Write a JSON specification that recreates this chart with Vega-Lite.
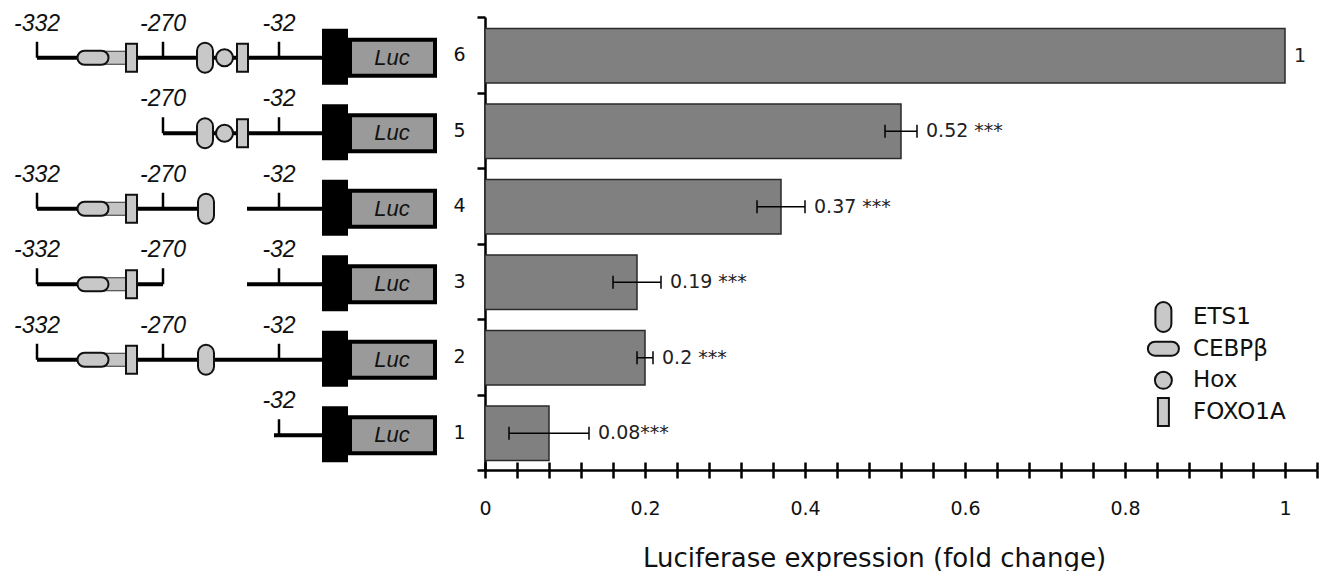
{
  "$schema": "https://vega.github.io/schema/vega-lite/v6.json",
  "padding": {"left": 0, "top": 8, "right": 0, "bottom": 0},
  "config": {"view": {"stroke": null}, "font": "DejaVu Sans"},
  "datasets": {
    "bars": [
      {"c": "6", "v": 1, "lo": 1, "hi": 1, "lab": "1"},
      {"c": "5", "v": 0.52, "lo": 0.5, "hi": 0.54, "lab": "0.52 ***"},
      {"c": "4", "v": 0.37, "lo": 0.34, "hi": 0.4, "lab": "0.37 ***"},
      {"c": "3", "v": 0.19, "lo": 0.16, "hi": 0.22, "lab": "0.19 ***"},
      {"c": "2", "v": 0.2, "lo": 0.19, "hi": 0.21, "lab": "0.2 ***"},
      {"c": "1", "v": 0.08, "lo": 0.03, "hi": 0.13, "lab": "0.08***"}
    ],
    "segs": [
      {"c": "6", "x1": 37, "x2": 322},
      {"c": "5", "x1": 163, "x2": 322},
      {"c": "4", "x1": 37, "x2": 215},
      {"c": "4", "x1": 247, "x2": 322},
      {"c": "3", "x1": 37, "x2": 163},
      {"c": "3", "x1": 247, "x2": 322},
      {"c": "2", "x1": 37, "x2": 322},
      {"c": "1", "x1": 274, "x2": 322}
    ],
    "ticks": [
      {"c": "6", "pos": 37, "label": "-332"},
      {"c": "6", "pos": 163, "label": "-270"},
      {"c": "6", "pos": 279, "label": "-32"},
      {"c": "5", "pos": 163, "label": "-270"},
      {"c": "5", "pos": 279, "label": "-32"},
      {"c": "4", "pos": 37, "label": "-332"},
      {"c": "4", "pos": 163, "label": "-270"},
      {"c": "4", "pos": 279, "label": "-32"},
      {"c": "3", "pos": 37, "label": "-332"},
      {"c": "3", "pos": 163, "label": "-270"},
      {"c": "3", "pos": 279, "label": "-32"},
      {"c": "2", "pos": 37, "label": "-332"},
      {"c": "2", "pos": 163, "label": "-270"},
      {"c": "2", "pos": 279, "label": "-32"},
      {"c": "1", "pos": 279, "label": "-32"}
    ],
    "shade": [
      {"c": "6", "x1": 104, "x2": 127},
      {"c": "4", "x1": 104, "x2": 127},
      {"c": "3", "x1": 104, "x2": 127},
      {"c": "2", "x1": 104, "x2": 127}
    ],
    "sites": [
      {"c": "6", "pos": 93, "factor": "CEBPβ"},
      {"c": "6", "pos": 131.5, "factor": "FOXO1A"},
      {"c": "6", "pos": 205, "factor": "ETS1"},
      {"c": "6", "pos": 224.5, "factor": "Hox"},
      {"c": "6", "pos": 242.5, "factor": "FOXO1A"},
      {"c": "5", "pos": 205, "factor": "ETS1"},
      {"c": "5", "pos": 224.5, "factor": "Hox"},
      {"c": "5", "pos": 242.5, "factor": "FOXO1A"},
      {"c": "4", "pos": 93, "factor": "CEBPβ"},
      {"c": "4", "pos": 131.5, "factor": "FOXO1A"},
      {"c": "4", "pos": 206, "factor": "ETS1"},
      {"c": "3", "pos": 93, "factor": "CEBPβ"},
      {"c": "3", "pos": 131.5, "factor": "FOXO1A"},
      {"c": "2", "pos": 93, "factor": "CEBPβ"},
      {"c": "2", "pos": 131.5, "factor": "FOXO1A"},
      {"c": "2", "pos": 206, "factor": "ETS1"}
    ],
    "factors": [
      {"factor": "ETS1"},
      {"factor": "CEBPβ"},
      {"factor": "Hox"},
      {"factor": "FOXO1A"}
    ]
  },
  "spacing": 12,
  "hconcat": [
    {
      "width": 440,
      "height": 453,
      "layer": [
        {
          "data": {"name": "segs"},
          "mark": {"type": "rule", "stroke": "black", "strokeWidth": 4, "yOffset": 3},
          "encoding": {
            "x": {"field": "x1", "type": "quantitative", "scale": {"domain": [0, 440], "nice": false, "zero": false}, "axis": null},
            "x2": {"field": "x2"},
            "y": {"field": "c", "type": "nominal", "scale": {"domain": ["6", "5", "4", "3", "2", "1"], "paddingInner": 0, "paddingOuter": 0}, "axis": null}
          }
        },
        {
          "data": {"name": "ticks"},
          "mark": {"type": "tick", "color": "black", "thickness": 2.5, "size": 16, "yOffset": -5, "orient": "vertical", "opacity": 1},
          "encoding": {
            "x": {"field": "pos", "type": "quantitative"},
            "y": {"field": "c", "type": "nominal"}
          }
        },
        {
          "data": {"name": "ticks"},
          "mark": {"type": "text", "font": "Liberation Sans", "fontStyle": "italic", "fontSize": 23, "dy": -31, "baseline": "middle", "align": "center", "color": "#111"},
          "encoding": {
            "x": {"field": "pos", "type": "quantitative"},
            "y": {"field": "c", "type": "nominal"},
            "text": {"field": "label"}
          }
        },
        {
          "data": {"name": "shade"},
          "mark": {"type": "bar", "height": 13, "fill": "#c4c4c4", "stroke": "#333", "strokeWidth": 1, "yOffset": 3},
          "encoding": {
            "x": {"field": "x1", "type": "quantitative"},
            "x2": {"field": "x2"},
            "y": {"field": "c", "type": "nominal"}
          }
        },
        {
          "data": {"name": "sites"},
          "mark": {"type": "point", "filled": true, "color": "#c8c8c8", "stroke": "#111", "strokeWidth": 2, "size": 900, "opacity": 1, "yOffset": 3},
          "encoding": {
            "x": {"field": "pos", "type": "quantitative"},
            "y": {"field": "c", "type": "nominal"},
            "shape": {
              "field": "factor",
              "type": "nominal",
              "scale": {
                "domain": ["ETS1", "CEBPβ", "Hox", "FOXO1A"],
                "range": [
                  "M-0.533,-0.467A0.533,0.533,0,0,1,0.533,-0.467L0.533,0.467A0.533,0.533,0,0,1,-0.533,0.467Z",
                  "M-0.567,-0.467L0.567,-0.467A0.467,0.467,0,0,1,0.567,0.467L-0.567,0.467A0.467,0.467,0,0,1,-0.567,-0.467Z",
                  "M-0.567,0A0.567,0.567,0,1,1,0.567,0A0.567,0.567,0,1,1,-0.567,0Z",
                  "M-0.367,-0.933L0.367,-0.933L0.367,0.933L-0.367,0.933Z"
                ]
              },
              "legend": null
            }
          }
        },
        {
          "data": {"name": "bars"},
          "mark": {"type": "bar", "color": "black", "height": {"band": 0.74}, "yOffset": 2},
          "encoding": {
            "x": {"datum": 322, "type": "quantitative"},
            "x2": {"datum": 348},
            "y": {"field": "c", "type": "nominal"}
          }
        },
        {
          "data": {"name": "bars"},
          "mark": {"type": "bar", "fill": "#9a9a9a", "stroke": "black", "strokeWidth": 4, "height": 36, "yOffset": 3},
          "encoding": {
            "x": {"datum": 350, "type": "quantitative"},
            "x2": {"datum": 435},
            "y": {"field": "c", "type": "nominal"}
          }
        },
        {
          "data": {"name": "bars"},
          "mark": {"type": "text", "font": "Liberation Sans", "fontStyle": "italic", "fontSize": 22, "baseline": "middle", "align": "center", "dy": 3, "color": "#111"},
          "encoding": {
            "x": {"datum": 392, "type": "quantitative"},
            "y": {"field": "c", "type": "nominal"},
            "text": {"value": "Luc"}
          }
        }
      ]
    },
    {
      "width": 832,
      "height": 453,
      "resolve": {"axis": {"x": "independent", "y": "independent"}, "scale": {"y": "independent"}},
      "layer": [
        {
          "data": {"name": "bars"},
          "mark": {"type": "bar", "fill": "#808080", "stroke": "#2a2a2a", "strokeWidth": 1.5, "height": {"band": 0.72}, "yOffset": 1},
          "encoding": {
            "x": {
              "field": "v", "type": "quantitative",
              "scale": {"domain": [0, 1.04], "nice": false, "zero": true},
              "axis": {
                "values": [0, 0.04, 0.08, 0.12, 0.16, 0.2, 0.24, 0.28, 0.32, 0.36, 0.4, 0.44, 0.48, 0.52, 0.56, 0.6, 0.64, 0.68, 0.72, 0.76, 0.8, 0.84, 0.88, 0.92, 0.96, 1, 1.04],
                "format": "~g",
                "labelExpr": "abs(datum.value*5 - round(datum.value*5)) < 0.01 ? datum.label : ''",
                "labelOverlap": false,
                "labelFlush": false,
                "grid": false,
                "tickSize": 8,
                "tickWidth": 2.5,
                "tickColor": "black",
                "domainColor": "black",
                "domainWidth": 2.5,
                "labelFontSize": 19,
                "labelPadding": 21,
                "labelColor": "#111",
                "title": "Luciferase expression (fold change)",
                "titleFontSize": 26,
                "titleFontWeight": "normal",
                "titleColor": "#111",
                "titlePadding": 27,
                "titleX": 389
              }
            },
            "y": {
              "field": "c", "type": "nominal",
              "scale": {"domain": ["6", "5", "4", "3", "2", "1"], "paddingInner": 0, "paddingOuter": 0},
              "axis": {
                "title": null,
                "tickBand": "extent",
                "tickSize": 8,
                "tickWidth": 2.5,
                "tickColor": "black",
                "domainColor": "black",
                "domainWidth": 2.5,
                "labelFontSize": 19,
                "labelPadding": 12,
                "labelColor": "#111",
                "labelAngle": 0
              }
            }
          }
        },
        {
          "data": {"name": "bars"},
          "transform": [{"filter": "datum.lo < datum.hi"}],
          "mark": {"type": "rule", "stroke": "black", "strokeWidth": 1.5, "yOffset": 1},
          "encoding": {
            "x": {
              "field": "lo", "type": "quantitative",
              "scale": {"domain": [0, 1.04], "nice": false, "zero": true},
              "axis": {
                "orient": "bottom",
                "offset": -8,
                "values": [0, 0.04, 0.08, 0.12, 0.16, 0.2, 0.24, 0.28, 0.32, 0.36, 0.4, 0.44, 0.48, 0.52, 0.56, 0.6, 0.64, 0.68, 0.72, 0.76, 0.8, 0.84, 0.88, 0.92, 0.96, 1, 1.04],
                "domain": false,
                "labels": false,
                "grid": false,
                "title": null,
                "tickSize": 8,
                "tickWidth": 2.5,
                "tickColor": "black"
              }
            },
            "x2": {"field": "hi"},
            "y": {"field": "c", "type": "nominal", "scale": {"domain": ["6", "5", "4", "3", "2", "1"], "paddingInner": 0, "paddingOuter": 0}, "axis": null}
          }
        },
        {
          "data": {"name": "bars"},
          "transform": [{"filter": "datum.lo < datum.hi"}],
          "mark": {"type": "tick", "color": "black", "thickness": 1.5, "size": 13, "orient": "vertical", "yOffset": 1, "opacity": 1},
          "encoding": {
            "x": {"field": "lo", "type": "quantitative", "scale": {"domain": [0, 1.04], "nice": false, "zero": true}, "axis": null},
            "y": {"field": "c", "type": "nominal", "scale": {"domain": ["6", "5", "4", "3", "2", "1"], "paddingInner": 0, "paddingOuter": 0}, "axis": null}
          }
        },
        {
          "data": {"name": "bars"},
          "transform": [{"filter": "datum.lo < datum.hi"}],
          "mark": {"type": "tick", "color": "black", "thickness": 1.5, "size": 13, "orient": "vertical", "yOffset": 1, "opacity": 1},
          "encoding": {
            "x": {"field": "hi", "type": "quantitative", "scale": {"domain": [0, 1.04], "nice": false, "zero": true}, "axis": null},
            "y": {"field": "c", "type": "nominal", "scale": {"domain": ["6", "5", "4", "3", "2", "1"], "paddingInner": 0, "paddingOuter": 0}, "axis": null}
          }
        },
        {
          "data": {"name": "bars"},
          "mark": {"type": "text", "align": "left", "baseline": "middle", "dx": 9, "dy": 1, "fontSize": 19, "font": "DejaVu Sans", "color": "#222"},
          "encoding": {
            "x": {"field": "hi", "type": "quantitative", "scale": {"domain": [0, 1.04], "nice": false, "zero": true}, "axis": null},
            "y": {"field": "c", "type": "nominal", "scale": {"domain": ["6", "5", "4", "3", "2", "1"], "paddingInner": 0, "paddingOuter": 0}, "axis": null},
            "text": {"field": "lab"}
          }
        },
        {
          "data": {"name": "factors"},
          "mark": {"type": "point", "filled": true, "color": "#c8c8c8", "stroke": "#111", "strokeWidth": 2, "size": 900, "opacity": 1},
          "encoding": {
            "x": {"datum": 0.848, "type": "quantitative", "scale": {"domain": [0, 1.04], "nice": false, "zero": true}, "axis": null},
            "y": {"field": "factor", "type": "nominal", "scale": {"type": "point", "domain": ["ETS1", "CEBPβ", "Hox", "FOXO1A"], "range": [300, 395], "padding": 0}, "axis": null},
            "shape": {
              "field": "factor",
              "type": "nominal",
              "scale": {
                "domain": ["ETS1", "CEBPβ", "Hox", "FOXO1A"],
                "range": [
                  "M-0.533,-0.467A0.533,0.533,0,0,1,0.533,-0.467L0.533,0.467A0.533,0.533,0,0,1,-0.533,0.467Z",
                  "M-0.567,-0.467L0.567,-0.467A0.467,0.467,0,0,1,0.567,0.467L-0.567,0.467A0.467,0.467,0,0,1,-0.567,-0.467Z",
                  "M-0.567,0A0.567,0.567,0,1,1,0.567,0A0.567,0.567,0,1,1,-0.567,0Z",
                  "M-0.367,-0.933L0.367,-0.933L0.367,0.933L-0.367,0.933Z"
                ]
              },
              "legend": null
            }
          }
        },
        {
          "data": {"name": "factors"},
          "mark": {"type": "text", "align": "left", "baseline": "middle", "fontSize": 23, "font": "DejaVu Sans", "color": "#111"},
          "encoding": {
            "x": {"datum": 0.885, "type": "quantitative", "scale": {"domain": [0, 1.04], "nice": false, "zero": true}, "axis": null},
            "y": {"field": "factor", "type": "nominal", "scale": {"type": "point", "domain": ["ETS1", "CEBPβ", "Hox", "FOXO1A"], "range": [300, 395], "padding": 0}, "axis": null},
            "text": {"field": "factor"}
          }
        }
      ]
    }
  ]
}
